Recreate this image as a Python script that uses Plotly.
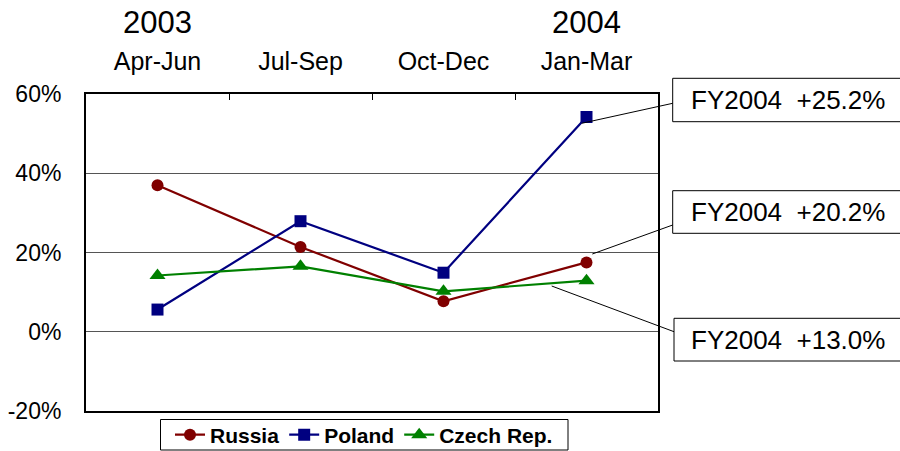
import plotly.graph_objects as go

quarters = ["Apr-Jun", "Jul-Sep", "Oct-Dec", "Jan-Mar"]
years = ["2003", "", "", "2004"]
russia = [37.0, 21.4, 7.7, 17.5]
poland = [5.6, 27.9, 14.9, 54.2]
czech = [14.2, 16.5, 10.2, 12.9]
fy_labels = ["FY2004  +25.2%", "FY2004  +20.2%", "FY2004  +13.0%"]
y_ticks = [-20, 0, 20, 40, 60]
y_tick_text = ["-20%", "0%", "20%", "40%", "60%"]

FONT = "Arial, 'Liberation Sans', sans-serif"

fig = go.Figure()
series = [
    ("Russia", russia, "#800000", "circle", 12),
    ("Poland", poland, "#000080", "square", 12),
    ("Czech Rep.", czech, "#008000", "triangle-up", 14),
]
for name, vals, col, sym, sz in series:
    fig.add_trace(go.Scatter(
        x=quarters, y=vals, name=name, mode="lines+markers",
        line=dict(color=col, width=2.2),
        marker=dict(symbol=sym, size=sz, color=col),
        cliponaxis=False,
    ))

# plot-area pixel geometry helpers (plot: x 86..658, y 94..411)
def px(x):
    return (x - 86) / 572.0

def py(y):
    return (411 - y) / 317.0

shapes = []
annotations = []
boxes = [
    (672.7, 78.3, 121.7, 103.3, 581.7, 123.3, 100.0),
    (672.7, 190.7, 233.3, 225.0, 592.3, 254.0, 212.0),
    (674.0, 318.3, 361.0, 331.7, 551.7, 286.0, 339.7),
]
for (bl, bt, bb, ly, ex, ey, ty), txt in zip(boxes, fy_labels):
    shapes.append(dict(type="rect", xref="paper", yref="paper",
                       x0=px(bl), x1=px(960), y0=py(bb), y1=py(bt),
                       line=dict(color="black", width=1), fillcolor="white"))
    shapes.append(dict(type="line", xref="paper", yref="paper",
                       x0=px(bl), y0=py(ly), x1=px(ex), y1=py(ey),
                       line=dict(color="black", width=1)))
    annotations.append(dict(text=txt, xref="paper", yref="paper",
                            x=px(689), y=py(ty), xanchor="left", yanchor="middle",
                            showarrow=False, font=dict(size=26, color="black", family=FONT)))

# legend frame
shapes.append(dict(type="rect", xref="paper", yref="paper",
                   x0=px(160.5), x1=px(568), y0=py(450), y1=py(419.5),
                   line=dict(color="black", width=1), fillcolor="white"))

for q, yr in zip(quarters, years):
    if yr:
        annotations.append(dict(text=yr, xref="x", yref="paper", x=q, y=py(22),
                                xanchor="center", yanchor="middle", showarrow=False,
                                font=dict(size=31, color="black", family=FONT)))

fig.update_layout(
    width=900, height=451,
    margin=dict(l=86, r=242, t=94, b=40, autoexpand=False),
    paper_bgcolor="white", plot_bgcolor="white",
    font=dict(family=FONT, color="black"),
    shapes=shapes,
    annotations=annotations,
    showlegend=True,
    legend=dict(orientation="h", x=px(364), xanchor="center", y=py(435), yanchor="middle",
                borderwidth=0, bgcolor="rgba(0,0,0,0)",
                font=dict(size=21, family=FONT, weight="bold"),
                itemwidth=30, tracegroupgap=0),
    xaxis=dict(type="category", side="top", tickson="boundaries", ticks="inside",
               ticklen=6, tickcolor="black", showgrid=False, showline=True, mirror=True,
               linecolor="black", linewidth=2, tickfont=dict(size=25, family=FONT),
               ticklabelstandoff=12, range=[-0.5, 3.5]),
    yaxis=dict(range=[-20, 60], tickvals=y_ticks, ticktext=y_tick_text, showgrid=True,
               gridcolor="#555555", gridwidth=1, zeroline=False, showline=True, mirror=True,
               linecolor="black", linewidth=2, tickfont=dict(size=23, family=FONT),
               ticklabelstandoff=18),
)

fig.write_html("out.html", config={"displayModeBar": False},
               post_script="document.body.style.margin='0';document.body.style.overflow='hidden';")
